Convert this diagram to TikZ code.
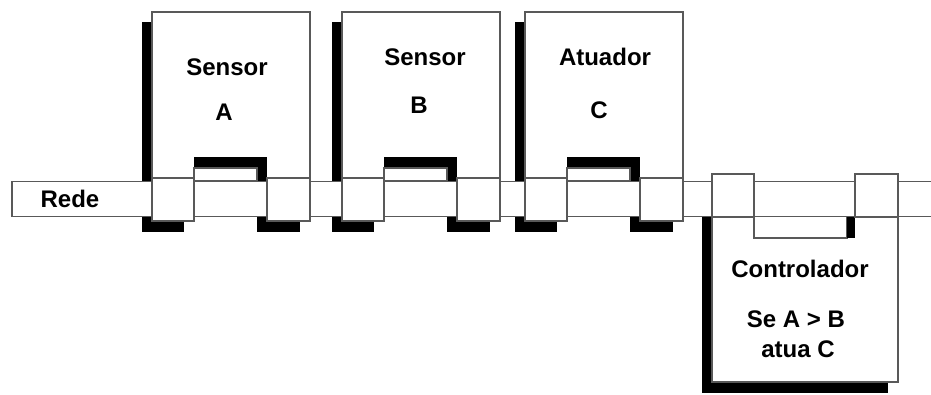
\documentclass[tikz,border=0pt]{standalone}
\usepackage{fontspec}
\setmainfont{Liberation Sans}

\tikzset{
    box/.style={fill=white, draw=black!65, line width=1.3pt},
    label/.style={font=\fontsize{24}{26}\selectfont\bfseries, inner sep=0pt, anchor=base}
}

\begin{document}
\begin{tikzpicture}[x=1pt, y=-1pt]
    \useasboundingbox (0,0) rectangle (931,394);

    % Sensor and actuator units hanging on top of the bus
    \foreach \L in {152,342,525} {
        \fill (\L-10,22) rectangle (\L+148,191);
        \filldraw[box] (\L,12) rectangle (\L+158,181);
        % Slot between the two taps
        \fill (\L+42,157) rectangle (\L+115,181);
        \filldraw[box] (\L+42,168) rectangle (\L+105,181);
        % Shadows of the taps
        \fill (\L-10,188) rectangle (\L+32,232);
        \fill (\L+105,188) rectangle (\L+148,232);
    }

    % Controller below the bus
    \fill (702,217) rectangle (888,393);
    \filldraw[box] (712,217) rectangle (898,382);

    % Bus
    \filldraw[box] (12,181.5) rectangle (945,216.5);

    % Taps on the bus
    \foreach \L in {152,342,525} {
        \filldraw[box] (\L,178) rectangle (\L+42,221);
        \filldraw[box] (\L+115,178) rectangle (\L+158,221);
    }
    \filldraw[box] (754,216.5) rectangle (847,238);
    \fill (847,217.2) rectangle (855,238);
    \filldraw[box] (712,174) rectangle (754,217);
    \filldraw[box] (855,174) rectangle (898,217);

    % Labels
    \node[label] (rede) at (70,207) {Rede};
    \node[label] (sensA) at (227,75) {Sensor};
    \node[label] (nameA) at (224,120) {A};
    \node[label] (sensB) at (425,65) {Sensor};
    \node[label] (nameB) at (419,113) {B};
    \node[label] (atuad) at (605,65) {Atuador};
    \node[label] (nameC) at (599,118) {C};
    \node[label] (ctrl) at (800,277) {Controlador};
    \node[label] (rule1) at (796,327) {Se A > B};
    \node[label] (rule2) at (798,357) {atua C};
\end{tikzpicture}
\end{document}
